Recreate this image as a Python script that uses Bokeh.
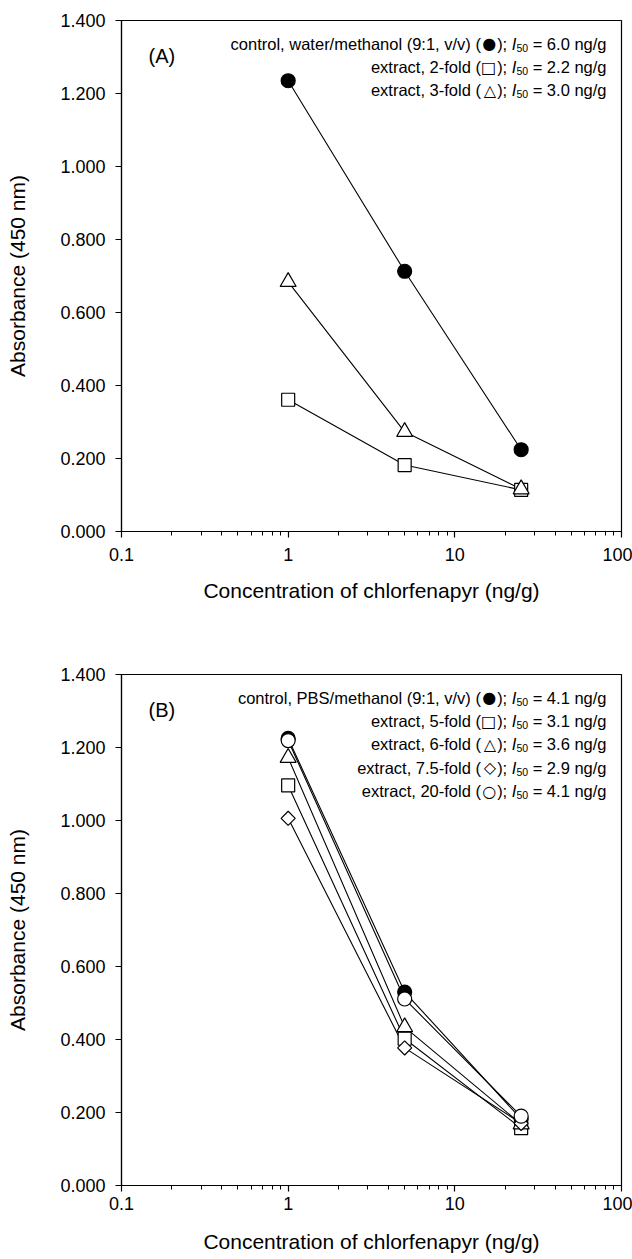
import math
from bokeh.plotting import figure
from bokeh.models import Label, FixedTicker, NumeralTickFormatter, CustomJSTickFormatter, Range1d
from bokeh.layouts import column
from bokeh.embed import file_html
from bokeh.resources import INLINE

# ---------------- data ----------------
conc = [1, 5, 25]  # ng/g

# Panel A
a_control = [1.235, 0.713, 0.224]
a_fold2 = [0.361, 0.182, 0.114]
a_fold3 = [0.684, 0.273, 0.116]

# Panel B
b_control = [1.225, 0.530, 0.182]
b_fold5 = [1.096, 0.402, 0.157]
b_fold6 = [1.172, 0.434, 0.168]
b_fold75 = [1.006, 0.377, 0.170]
b_fold20 = [1.219, 0.511, 0.190]

a_legend_heads = ["control, water/methanol (9:1, v/v)", "extract, 2-fold", "extract, 3-fold"]
a_symbols = ["\u25CF", "\u25A1", "\u25B3"]
a_i50 = ["6.0", "2.2", "3.0"]
b_legend_heads = ["control, PBS/methanol (9:1, v/v)", "extract, 5-fold", "extract, 6-fold",
                  "extract, 7.5-fold", "extract, 20-fold"]
b_symbols = ["\u25CF", "\u25A1", "\u25B3", "\u25C7", "\u25CB"]
b_i50 = ["4.1", "3.1", "3.6", "2.9", "4.1"]

x_ticks = [0.1, 1, 10, 100]
x_minor = [m * 10 ** e for e in (-1, 0, 1) for m in range(2, 10)]
y_ticks = [0.0, 0.2, 0.4, 0.6, 0.8, 1.0, 1.2, 1.4]

FONT = "Liberation Sans"
SYM_FONT = "DejaVu Sans"
LEG_SIZE = 16.5
SUB_SIZE = 10.5
SYM_SIZE = 16.0

# Arial / Liberation Sans advance widths (1/1000 em)
AW = {' ': 278, '=': 584, '.': 278, '/': 278, 'n': 556, 'g': 556, 'I': 278,
      '(': 333, ')': 333, ';': 278}
for d in "0123456789":
    AW[d] = 556
SYM_W = 0.95  # em, DejaVu Sans geometric shapes (approx. advance)


def tw(s, size):
    return sum(AW[c] for c in s) * size / 1000.0


def px(v):
    return "%.1fpx" % v


def make_fig(height, btop, bbottom, tick_standoff, title_standoff):
    p = figure(width=632, height=height, x_axis_type="log",
               x_range=Range1d(0.1, 100), y_range=Range1d(0, 1.4),
               output_backend="svg", toolbar_location=None,
               min_border_left=121, min_border_right=11,
               min_border_top=btop, min_border_bottom=bbottom,
               background_fill_color="white", border_fill_color="white")
    p.grid.visible = False
    p.outline_line_color = "black"
    p.outline_line_width = 1.2
    p.outline_line_alpha = 1

    p.xaxis.ticker = FixedTicker(ticks=x_ticks, minor_ticks=x_minor)
    p.xaxis.formatter = CustomJSTickFormatter(
        code="return tick >= 1 ? tick.toFixed(0) : tick.toFixed(1);")
    p.yaxis.ticker = FixedTicker(ticks=y_ticks)
    p.yaxis.formatter = NumeralTickFormatter(format="0.000")

    for ax in (p.xaxis[0], p.yaxis[0]):
        ax.axis_line_color = "black"
        ax.axis_line_width = 1.2
        ax.major_tick_line_color = "black"
        ax.major_tick_line_width = 1.2
        ax.major_tick_in = 0
        ax.major_tick_out = 6
        ax.minor_tick_line_color = "black"
        ax.minor_tick_line_width = 1
        ax.minor_tick_in = 0
        ax.minor_tick_out = 4
        ax.major_label_text_font = FONT
        ax.major_label_text_font_size = "18px"
        ax.major_label_text_color = "black"
        ax.axis_label_text_font = FONT
        ax.axis_label_text_font_size = "21px"
        ax.axis_label_text_font_style = "normal"
        ax.axis_label_text_color = "black"
    p.yaxis.minor_tick_line_color = None
    p.xaxis.axis_label = "Concentration of chlorfenapyr (ng/g)"
    p.yaxis.axis_label = "Absorbance (450 nm)"
    p.xaxis.major_label_standoff = tick_standoff
    p.yaxis.major_label_standoff = 10
    p.xaxis.axis_label_standoff = title_standoff
    p.yaxis.axis_label_standoff = 28
    return p


def lab(p, x_off, y_off, text, size, font=FONT, style="normal"):
    p.add_layout(Label(x=100, y=1.4, x_offset=x_off, y_offset=y_off, text=text,
                       text_align="right", text_baseline="middle",
                       text_font=font, text_font_size=px(size),
                       text_font_style=style, text_color="black"))


def add_legend(p, heads, symbols, vals, panel):
    p.add_layout(Label(x=0.1, y=1.4, x_offset=27, y_offset=-35, text=panel,
                       text_align="left", text_baseline="middle",
                       text_font=FONT, text_font_size="20px", text_color="black"))
    step = 23.3
    for k, (head, sym, val) in enumerate(zip(heads, symbols, vals)):
        yoff = -(23.3 + step * k)
        x0 = -15.0
        right = "= %s ng/g" % val
        lab(p, x0, yoff, right, LEG_SIZE)
        x0 -= tw(right, LEG_SIZE) + tw(" ", LEG_SIZE)
        lab(p, x0, yoff - 4, "50", SUB_SIZE)
        x0 -= tw("50", SUB_SIZE)
        lab(p, x0, yoff, "I", LEG_SIZE, style="italic")
        x0 -= tw("I", LEG_SIZE) + tw(" ", LEG_SIZE)
        lab(p, x0, yoff, ");", LEG_SIZE)
        x0 -= tw(");", LEG_SIZE) + 1
        lab(p, x0, yoff, sym, SYM_SIZE, font=SYM_FONT)
        x0 -= SYM_W * SYM_SIZE
        lab(p, x0, yoff, head + " (", LEG_SIZE)


STYLE = {
    "filled": dict(marker="circle", size=14, fill_color="black"),
    "square": dict(marker="square", size=13, fill_color="white"),
    "triangle": dict(marker="triangle", size=16, fill_color="white"),
    "diamond": dict(marker="square", size=10, fill_color="white", angle=math.pi / 4),
    "circle": dict(marker="circle", size=14, fill_color="white"),
}


def add_series(p, series):
    for vals, kind in series:
        p.line(conc, vals, line_color="black", line_width=1.1)
    for vals, kind in series:
        p.scatter(conc, vals, line_color="black", line_width=1.2, **STYLE[kind])


# panel A: frame 20..531 px; panel B: frame 674..1185 px (page coordinates)
pa = make_fig(640, 20, 109, 10, 15)
add_series(pa, [(a_control, "filled"), (a_fold2, "square"), (a_fold3, "triangle")])
add_legend(pa, a_legend_heads, a_symbols, a_i50, "(A)")

pb = make_fig(619, 34, 74, 5, 17)
add_series(pb, [(b_control, "filled"), (b_fold5, "square"), (b_fold6, "triangle"),
                (b_fold75, "diamond"), (b_fold20, "circle")])
add_legend(pb, b_legend_heads, b_symbols, b_i50, "(B)")

layout = column(pa, pb, spacing=0)
open("out.html", "w").write(file_html(layout, INLINE))
